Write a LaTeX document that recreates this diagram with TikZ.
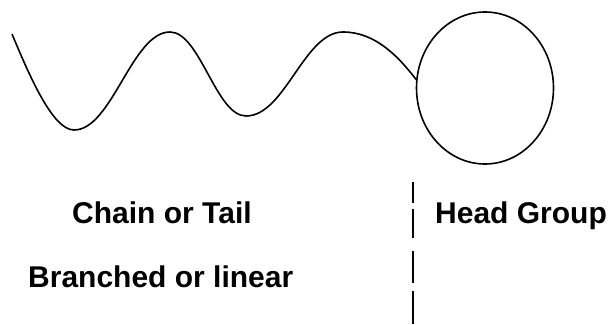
\documentclass[tikz,border=0pt]{standalone}
\usepackage{fontspec}
\setmainfont{Liberation Sans}
\usetikzlibrary{shapes.geometric}
\tikzset{
  lbl/.style={font=\fontsize{30}{36}\selectfont\bfseries, inner sep=0pt, anchor=base west},
  curveline/.style={draw=black, line width=1.6pt},
  divider/.style={draw=black, line width=2.2pt}
}
\begin{document}
\begin{tikzpicture}[x=1pt,y=-1pt]
\useasboundingbox (0,0) rectangle (615,324);
\node[ellipse, curveline, minimum width=137pt, minimum height=152pt, inner sep=0pt] (head) at (485,88) {};
\coordinate (tailstart) at (12,34);
\draw[curveline] (tailstart) .. controls (28,72) and (52,130) .. (74,130)
  .. controls (112,130) and (132,32) .. (170,32)
  .. controls (200,32) and (216,116) .. (246,116)
  .. controls (285,116) and (304,32) .. (343,32)
  .. controls (375,32) and (398,56) .. (head.173);
\node[lbl] (chain) at (72,223) {Chain or Tail};
\node[lbl] (branched) at (28,287) {Branched or linear};
\node[lbl] (headlbl) at (435,223) {Head Group};
\coordinate (d1a) at (413,182); \coordinate (d1b) at (413,203);
\coordinate (d2a) at (413,209); \coordinate (d2b) at (413,238);
\coordinate (d3a) at (413,251); \coordinate (d3b) at (413,283);
\coordinate (d4a) at (413,291); \coordinate (d4b) at (413,324);
\draw[divider] (d1a) -- (d1b);
\draw[divider] (d2a) -- (d2b);
\draw[divider] (d3a) -- (d3b);
\draw[divider] (d4a) -- (d4b);
\end{tikzpicture}
\end{document}
